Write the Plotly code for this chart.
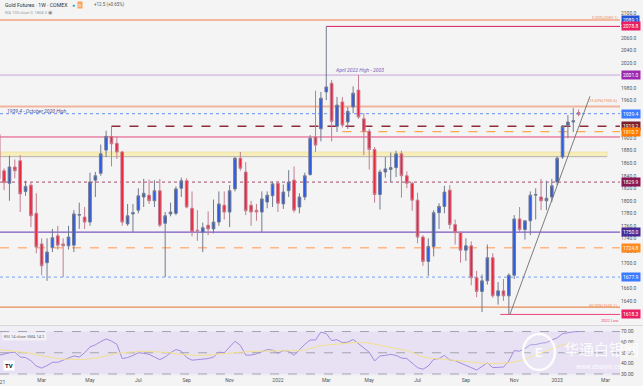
import pandas as pd
import plotly.graph_objects as go

# ---------------- data ----------------
weeks = pd.date_range("2021-01-04", periods=109, freq="W-MON")

opens = [1906,1848,1828,1854,1864,1815,1825,1780,1731,1701,
         1725,1744,1731,1728,1729,1777,1774,1766,1833,1844,
         1881,1903,1892,1878,1763,1779,1785,1806,1809,1800,
         1816,1764,1779,1780,1820,1832,1788,1753,1750,1761,
         1755,1766,1793,1782,1819,1868,1846,1793,1785,1782,
         1798,1808,1828,1795,1816,1833,1790,1806,1842,1902,
         1915,1974,1988,1919,1958,1926,1950,1977,1931,1911,
         1882,1810,1846,1850,1853,1875,1840,1828,1801,1742,
         1703,1727,1781,1791,1817,1762,1749,1721,1728,1677,
         1655,1672,1709,1648,1656,1648,1681,1771,1754,1768,
         1809,1806,1800,1806,1830,1870,1921,1926,1941]
highs = [1908,1852,1872,1866,1873,1832,1830,1812,1740,1740,
         1755,1760,1740,1760,1785,1797,1790,1845,1846,1890,
         1912,1919.2,1903,1880,1795,1795,1820,1835,1834,1833,
         1835,1782,1797,1823,1837,1836,1815,1785,1765,1783,
         1802,1815,1815,1825,1870,1878,1862,1800,1795,1815,
         1815,1831,1832,1826,1849,1855,1812,1845,1905,1976,
         1974,2078.8,1993,1966,1966,1950,1983,2001,1940,1915,
         1886,1850,1870,1877,1880,1880,1847,1830,1813,1745,
         1740,1785,1796,1824,1825,1770,1751,1740,1735,1688,
         1682,1730,1716,1670,1675,1684,1777,1790,1768,1815,
         1820,1835,1832,1835,1871,1921,1937,1948,1946]
lows = [1817,1817,1800,1836,1782,1808,1758,1716,1681,1672,
        1718,1722,1677.9,1722,1718,1755,1755,1760,1806,1840,
        1870,1855,1867,1760,1760,1749,1780,1790,1795,1790,
        1758,1677.9,1775,1777,1806,1788,1743,1736,1718,1745,
        1748,1760,1770,1758,1815,1848,1777,1760,1768,1750,
        1788,1790,1782,1787,1806,1781,1780,1801,1840,1878,
        1895,1961,1895,1910,1917,1915,1940,1931,1873,1850,
        1797,1786,1837,1830,1838,1805,1820,1784,1732,1696,
        1680,1711,1755,1780,1755,1730,1701,1704,1665,1646,
        1622,1666,1645,1634,1640,1618.3,1675,1750,1738,1745,
        1770,1785,1785,1798,1825,1867,1900,1910,1935]
closes = [1835,1829,1854,1848,1811,1823,1776,1726,1696,1718,
          1741,1729,1728,1742,1779,1778,1766,1830,1840,1875,
          1903,1891,1878,1766,1776,1781,1808,1812,1800,1816,
          1761,1776,1782,1819,1832,1790,1750,1752,1757,1755,
          1766,1795,1782,1816,1868,1852,1784,1782,1782,1803,
          1809,1827,1796,1814,1830,1785,1806,1840,1900,1889,
          1964,1982,1927,1953,1921,1943,1972,1934,1911,1882,
          1810,1846,1851,1853,1875,1840,1828,1801,1742,1703,
          1727,1781,1791,1814,1762,1749,1721,1728,1677,1655,
          1672,1709,1648,1656,1648,1681,1771,1754,1768,1809,
          1810,1800,1804,1824,1868,1919,1926,1928,1938]

rsi = [47.5,49,50,50.5,46,45.5,42.5,37.5,35.5,38,
       41,41,43,45.5,47,46,50,55.5,57.5,60.5,
       63,61,58,44.5,45.5,47.5,50,49.5,48.5,46,
       43.5,46,50,53,51.5,45.5,43,43.5,44,44.5,
       46,50.6,50,55,60.8,57,47.8,47.8,49,51,
       53,52.5,49.4,52,51.5,47.5,53,58,62,62,
       69.4,68,61.5,62.3,59.5,60,62.5,58.5,54,50.5,
       42.3,47,47.5,48.5,47.5,45,44.5,40,36,34.5,
       37.5,43.8,44.5,47.5,43.2,42.5,40.5,38,36,33.7,
       37,40.5,36,36,36.5,42.3,52,51.5,54,57.5,
       57.7,59,59.5,62,64,68,69.2,69.7,70]
rsi_sma = [53,52.5,52,51.5,51,50.5,49.5,48,47,46,
           45.5,44.5,44,43.8,43.5,43.2,43.5,44.5,45,45.8,
           47,48.5,49.5,50,50.5,51,51.5,51.5,51.3,51,
           51,50.5,50,49,48.5,48,47.8,47.5,47.5,47.8,
           48.3,48.5,49,49.5,50,50.5,51,51.3,51.5,51.5,
           51.5,51.5,51.5,51.5,51.8,52,52.3,52.5,54,55.5,
           56.5,57.2,57.8,58.3,58.7,59,59.5,59.8,59.8,59,
           58,57,56.5,55.5,54.5,53.7,52,50,48,46,
           45.2,44.5,44,43.8,43.2,42.7,42,41.4,41,40.5,
           40,39.8,39.8,40,40,40.5,41.5,42.3,44,46,
           48,50,52,54,56,57.5,58.6]

tick_dates = ["2021-03-01","2021-05-03","2021-07-05","2021-09-06","2021-11-01",
              "2022-01-03","2022-03-07","2022-05-02","2022-07-04","2022-09-05","2022-11-07",
              "2023-01-02","2023-03-06"]
tick_text = ["Mar","May","Jul","Sep","Nov","2022","Mar","May","Jul","Sep","Nov","2023","Mar"]

price_ticks = list(range(1600, 2101, 20))

# horizontal levels: (price, start week index or None for full width, color, width, dash)
level_prices = [2089.1, 2078.8, 2001.0, 1950.6, 1939.4, 1919.2, 1910.7, 1902.0, 1829.9, 1750.0, 1724.8, 1677.9, 1630.1, 1618.3]
level_start  = [None, 61, None, None, None, 21, 64, None, None, None, None, None, None, 93.4]
level_color  = ["#f4a582", "#d81b60", "#c9a3d8", "#f2b49c", "#7fa2f2", "#8e2c3c", "#ffa552", "#e5487e",
                "#a8496f", "#7e57c2", "#ffb584", "#8fb0f8", "#e98b54", "#ec407a"]
level_width  = [1.5, 1, 1, 2, 1.2, 1.5, 1.2, 1, 1, 1.2, 1.5, 1.2, 1.2, 1]
level_dash   = ["solid", "solid", "solid", "solid", "dot", "dash", "dash", "solid", "dot", "solid", "dash", "dot", "solid", "solid"]

# price tags on the right scale
tag_prices = [2089.1, 2078.8, 2001.0, 1939.4, 1919.2, 1910.7, 1829.9, 1750.0, 1724.8, 1677.9, 1618.3]
tag_colors = ["#2453d6", "#e91e63", "#9c27b0", "#3b7bff", "#7b1f2e", "#ff7a00", "#8a1551", "#4a2a96", "#ff8a1f", "#3b7bff", "#e91e63"]

zone_low, zone_high, zone_end_week = 1871.0, 1878.0, 113.3
trend_weeks = [95.2, 110.1]
trend_prices = [1618.3, 1967.0]

# ---------------- figure ----------------
W, H = 643, 386
ML, MR, MT, MB = 0, 23, 0, 10
PH = H - MT - MB  # plot height in px


def py(px):
    """pixel from top -> paper y"""
    return 1 - px / PH


def wk(i):
    return weeks[0] + pd.Timedelta(days=7 * i)


x0, x1 = wk(0.24), wk(115.7)
FONT = "Roboto"

fig = go.Figure()
fig.add_trace(go.Candlestick(
    x=weeks, open=opens, high=highs, low=lows, close=closes,
    xaxis="x", yaxis="y",
    increasing=dict(fillcolor="#2d5be3", line=dict(color="#737b90", width=1)),
    decreasing=dict(fillcolor="#e8283c", line=dict(color="#c47c90", width=1)),
    whiskerwidth=0, showlegend=False, hoverinfo="skip"))

fig.add_trace(go.Scatter(x=weeks[:len(rsi)], y=rsi, mode="lines", xaxis="x2", yaxis="y2",
                         line=dict(color="#a48ce0", width=1), showlegend=False, hoverinfo="skip"))
fig.add_trace(go.Scatter(x=weeks[:len(rsi_sma)], y=rsi_sma, mode="lines", xaxis="x2", yaxis="y2",
                         line=dict(color="#f3e08e", width=1), showlegend=False, hoverinfo="skip"))

shapes = []
zone_x1 = (zone_end_week - 0.24) / (115.7 - 0.24)
shapes.append(dict(type="rect", xref="paper", yref="y", x0=0, x1=zone_x1,
                   y0=zone_low, y1=zone_high, fillcolor="#f8eebb", line=dict(color="#e8d98f", width=0.5), layer="below"))
shapes.append(dict(type="line", xref="paper", yref="y", x0=0, x1=zone_x1,
                   y0=zone_low - 0.5, y1=zone_low - 0.5, line=dict(color="#b5b5b5", width=1), layer="below"))
for p, s, c, w, d in zip(level_prices, level_start, level_color, level_width, level_dash):
    if s is None:
        shapes.append(dict(type="line", xref="paper", yref="y", x0=0, x1=1, y0=p, y1=p,
                           line=dict(color=c, width=w, dash=d), layer="below"))
    else:
        shapes.append(dict(type="line", xref="x", yref="y", x0=wk(s), x1=x1, y0=p, y1=p,
                           line=dict(color=c, width=w, dash=d), layer="below"))
shapes.append(dict(type="line", xref="x", yref="y", x0=wk(trend_weeks[0]), x1=wk(trend_weeks[1]),
                   y0=trend_prices[0], y1=trend_prices[1], line=dict(color="#6e6e6e", width=0.9)))
shapes.append(dict(type="rect", xref="paper", yref="paper", x0=0, x1=1, y0=0, y1=py(326),
                   fillcolor="#f1eff6", line=dict(width=0), layer="below"))
shapes.append(dict(type="rect", xref="paper", yref="y2", x0=0, x1=1, y0=30, y1=70,
                   fillcolor="#e7e1f3", line=dict(width=0), layer="below"))
for v in (70, 50, 30):
    shapes.append(dict(type="line", xref="paper", yref="y2", x0=0, x1=1, y0=v, y1=v,
                       line=dict(color="#a3a3ad", width=1, dash="dash"), layer="below"))
shapes.append(dict(type="line", xref="paper", yref="paper", x0=0, x1=1.04, y0=py(325.5), y1=py(325.5),
                   line=dict(color="#d8d8d8", width=1)))
shapes.append(dict(type="circle", xref="paper", yref="paper", x0=523 / 620, x1=555 / 620, y0=py(370), y1=py(334),
                   line=dict(color="rgba(255,255,255,0.9)", width=2.5), fillcolor="rgba(255,255,255,0.15)"))

ann = []
def text(x, y, t, size=5, color="#333", xanchor="left", yanchor="middle", **kw):
    ann.append(dict(x=x / 620, y=py(y), xref="paper", yref="paper", text=t, showarrow=False,
                    xanchor=xanchor, yanchor=yanchor, font=dict(size=size, color=color, family=FONT), **kw))

text(3, 4.5, "Gold Futures · 1W · COMEX", 5.2, "#333")
text(70, 4.5, "●", 5, "#26a69a")
text(77, 4.5, "D", 4, "#ffffff", bgcolor="#f7a35c", borderpad=0.5)
text(92, 4.5, "+12.5 (+0.65%)", 4.5, "#555")
text(3, 12.5, "MA 100 close 0  1868.5", 4, "#a0a0a0")
text(46, 12.5, "◉", 4.5, "#888")
text(5, 110.5, "<i>1939.4 - October 2020 High</i>", 5, "#3f4f9e")
text(333, 70, "<i>April 2022 High - 2003</i>", 5, "#7e5bb8")
text(620, 17, "0.00%(2089.1)", 4, "#f08c5a", xanchor="right")
text(620, 101, "23.60%(1950.6)", 4, "#f08c5a", xanchor="right")
text(620, 305.5, "50.00%(1630.1)", 4, "#f08c5a", xanchor="right")
text(620, 320, "2022 Low", 4, "#ec407a", xanchor="right")
text(2, 336, "RSI 14 close SMA 14 2", 4, "#666", bgcolor="#f3f1f7")
text(3, 365, "<b>TV</b>", 6, "#111", bgcolor="#ffffff", borderpad=1)
text(539, 352, "<b>E</b>", 13, "rgba(255,255,255,0.9)", xanchor="center")
text(601, 348, "华通白银网", 15, "rgba(255,255,255,0.9)", xanchor="center")
ann[-1]["font"]["family"] = "Noto Sans CJK SC"
text(601, 367, "www.ebaiyin.com", 6.5, "rgba(255,255,255,0.9)", xanchor="center")
# partially visible first year label at the left edge
text(-1, 381.5, "2021", 5, "#555", xanchor="center")

for p, c in zip(tag_prices, tag_colors):
    ann.append(dict(x=1, y=p, xref="paper", yref="y", text=f"{p:.1f}", showarrow=False, xanchor="left",
                    xshift=1, yanchor="middle", bgcolor=c, borderpad=1,
                    font=dict(size=5, color="#ffffff", family=FONT)))

axis_common = dict(showgrid=False, zeroline=False, showline=False, ticks="")
fig.update_layout(
    width=W, height=H, margin=dict(l=ML, r=MR, t=MT, b=MB),
    paper_bgcolor="#f4f4f4", plot_bgcolor="#f4f4f4",
    font=dict(family=FONT, size=5, color="#555"),
    showlegend=False, shapes=shapes, annotations=ann,
    xaxis=dict(domain=[0, 1], range=[x0, x1], anchor="y", showticklabels=False,
               rangeslider=dict(visible=False), **axis_common),
    xaxis2=dict(domain=[0, 1], range=[x0, x1], anchor="y2", matches="x",
                tickvals=pd.to_datetime(tick_dates), ticktext=tick_text,
                tickfont=dict(size=5, color="#555"), **axis_common),
    yaxis=dict(domain=[1 - 324 / PH, 1], range=[1603, 2121], side="right", anchor="x",
               tickvals=price_ticks, ticktext=[f"{v:.1f}" for v in price_ticks],
               tickfont=dict(size=5, color="#555"), **axis_common),
    yaxis2=dict(domain=[0, 1 - 326 / PH], range=[28.1, 75.2], side="right", anchor="x2",
                tickvals=[30, 40, 50, 60, 70], ticktext=["30.00", "40.00", "50.00", "60.00", "70.00"],
                tickfont=dict(size=5, color="#555"), **axis_common),
)

fig.write_html("out.html", config={"displayModeBar": False},
               post_script="document.body.style.margin='0';document.body.style.padding='0';")
